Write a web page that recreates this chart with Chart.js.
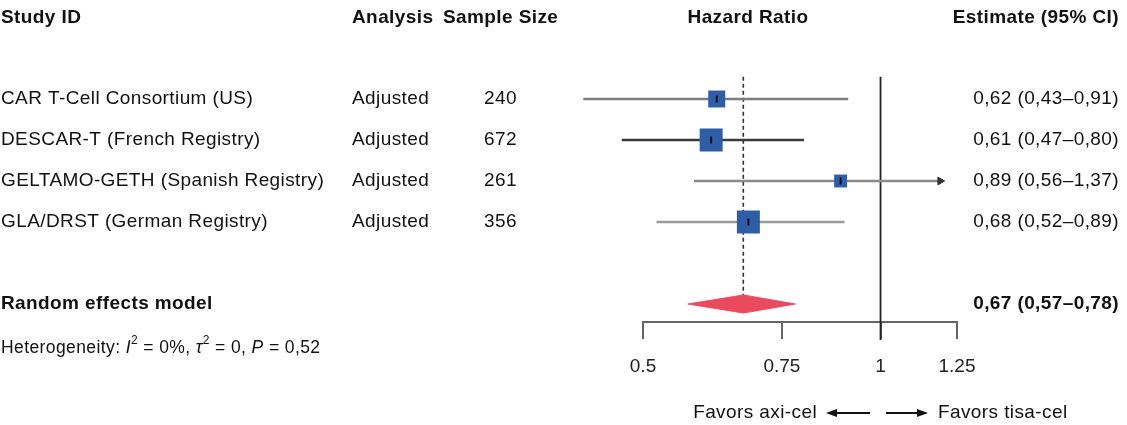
<!DOCTYPE html>
<html>
<head>
<meta charset="utf-8">
<script src="https://cdn.jsdelivr.net/npm/chart.js@4/dist/chart.umd.min.js"></script>
<style>
html,body{margin:0;padding:0;background:#fff;}
canvas{display:block;}
</style>
</head>
<body>
<canvas id="c" width="1127" height="425"></canvas>
<script>
// ---- data ----
const studyIds = ["CAR T-Cell Consortium (US)", "DESCAR-T (French Registry)", "GELTAMO-GETH (Spanish Registry)", "GLA/DRST (German Registry)"];
const analyses = ["Adjusted", "Adjusted", "Adjusted", "Adjusted"];
const sampleSizes = [240, 672, 261, 356];
const estimates = [0.62, 0.61, 0.89, 0.68];
const lowerCI = [0.42, 0.47, 0.58, 0.52];
const upperCI = [0.91, 0.80, 1.37, 0.90];
const weights = [19, 35, 11, 35];
const estimateLabels = ["0,62 (0,43–0,91)", "0,61 (0,47–0,80)", "0,89 (0,56–1,37)", "0,68 (0,52–0,89)"];
const pooled = 0.67, pooledLo = 0.57, pooledHi = 0.78;
const pooledLabel = "0,67 (0,57–0,78)";
const pooledName = "Random effects model";
const xTicks = [0.5, 0.75, 1, 1.25];
const xTickLabels = ["0.5", "0.75", "1", "1.25"];
const headers = ["Study ID", "Analysis", "Sample Size", "Hazard Ratio", "Estimate (95% CI)"];
const favorsLeft = "Favors axi-cel", favorsRight = "Favors tisa-cel";
const clipMax = 1.19;

// ---- styles ----
const FONT = '"Liberation Sans", Arial, Helvetica, sans-serif';
const lineColors = ["#7d7d7d", "#3a3a3a", "#8a8a8a", "#9a9a9a"];
const squareColor = "#2f5ea8";
const diamondColor = "#ea4a5e";
const maxSide = 23;
const summaryRow = 5;

const maxW = Math.max(...weights);
const rectRadius = weights.map(w => maxSide * Math.sqrt(w / maxW) / Math.SQRT2);

const datasets = [];
estimates.forEach((e, i) => {
  datasets.push({
    data: [{x: lowerCI[i], y: i}, {x: Math.min(upperCI[i], clipMax), y: i}],
    showLine: true, borderColor: lineColors[i], borderWidth: 2.6,
    pointRadius: 0, clip: false, order: 10
  });
});
// arrow for clipped CI
datasets.push({
  data: upperCI.map((u, i) => u > clipMax ? {x: clipMax, y: i} : null).filter(Boolean),
  pointStyle: 'triangle', rotation: 90, pointRadius: 4.5,
  backgroundColor: '#333', borderColor: '#333', borderWidth: 1, clip: false, order: 9
});
// reference lines
datasets.push({
  data: [{x: pooled, y: -0.54}, {x: pooled, y: 4.78}],
  showLine: true, borderColor: '#333', borderWidth: 1.6, borderDash: [4, 3],
  pointRadius: 0, clip: false, order: 11
});
datasets.push({
  data: [{x: 1, y: -0.54}, {x: 1, y: 5.88}],
  showLine: true, borderColor: '#222', borderWidth: 1.8,
  pointRadius: 0, clip: false, order: 11
});
// squares
datasets.push({
  data: estimates.map((e, i) => ({x: e, y: i})),
  pointStyle: 'rect', pointRadius: rectRadius,
  backgroundColor: squareColor, borderColor: squareColor, borderWidth: 0, clip: false, order: 2
});
// centre marks
datasets.push({
  data: estimates.map((e, i) => ({x: e, y: i})),
  pointStyle: 'line', rotation: 90, pointRadius: 3.5,
  borderColor: '#111', borderWidth: 2, clip: false, order: 1
});
// diamond
const dh = 0.22;
datasets.push({
  data: [{x: pooledLo, y: summaryRow}, {x: pooled, y: summaryRow - dh}, {x: pooledHi, y: summaryRow},
         {x: pooled, y: summaryRow + dh}, {x: pooledLo, y: summaryRow}],
  showLine: true, fill: 'shape', tension: 0,
  borderColor: diamondColor, backgroundColor: diamondColor, borderWidth: 1,
  pointRadius: 0, clip: false, order: 5
});

function drawArrow(ctx, x1, x2, y) {
  ctx.save();
  ctx.strokeStyle = '#111'; ctx.fillStyle = '#111'; ctx.lineWidth = 2;
  ctx.beginPath(); ctx.moveTo(x1, y); ctx.lineTo(x2, y); ctx.stroke();
  const dir = Math.sign(x2 - x1);
  ctx.beginPath();
  ctx.moveTo(x2 + dir * 2, y);
  ctx.lineTo(x2 - dir * 9, y - 4);
  ctx.lineTo(x2 - dir * 9, y + 4);
  ctx.closePath(); ctx.fill();
  ctx.restore();
}

function drawSegments(ctx, x, y, segs) {
  let cx = x;
  segs.forEach(s => {
    ctx.font = s.f;
    ctx.fillText(s.t, cx, y + (s.dy || 0));
    cx += ctx.measureText(s.t).width;
  });
}

const textPlugin = {
  id: 'forestText',
  afterDraw(chart) {
    const ctx = chart.ctx;
    const ys = chart.scales.y;
    const Y = v => ys.getPixelForValue(v);
    ctx.save();
    ctx.fillStyle = '#111';
    ctx.textBaseline = 'middle';
    if ('letterSpacing' in ctx) ctx.letterSpacing = '0.4px';
    const bold = 'bold 19px ' + FONT, reg = '19px ' + FONT;
    // headers
    const hy = Y(-1.97);
    ctx.font = bold;
    ctx.textAlign = 'left';
    ctx.fillText(headers[0], 1, hy);
    ctx.fillText(headers[1], 352, hy);
    ctx.fillText(headers[2], 443, hy);
    ctx.textAlign = 'center';
    ctx.fillText(headers[3], 748, hy);
    ctx.textAlign = 'right';
    ctx.fillText(headers[4], 1119, hy);
    // rows
    ctx.font = reg;
    studyIds.forEach((s, i) => {
      const y = Y(i);
      ctx.textAlign = 'left';
      ctx.fillText(s, 1, y);
      ctx.fillText(analyses[i], 352, y);
      ctx.fillText(String(sampleSizes[i]), 484, y);
      ctx.textAlign = 'right';
      ctx.fillText(estimateLabels[i], 1119, y);
    });
    // summary
    ctx.font = bold;
    ctx.textAlign = 'left';
    ctx.fillText(pooledName, 1, Y(summaryRow));
    ctx.textAlign = 'right';
    ctx.fillText(pooledLabel, 1119, Y(summaryRow));
    // heterogeneity
    ctx.textAlign = 'left';
    const r = '17.5px ' + FONT, it = 'italic 17.5px ' + FONT, sup = '12px ' + FONT;
    drawSegments(ctx, 1, 348, [
      {t: 'Heterogeneity: ', f: r}, {t: 'I', f: it}, {t: '2', f: sup, dy: -7},
      {t: ' = 0%, ', f: r}, {t: 'τ', f: it}, {t: '2', f: sup, dy: -7},
      {t: ' = 0, ', f: r}, {t: 'P', f: it}, {t: ' = 0,52', f: r}
    ]);
    // favors
    ctx.font = reg;
    ctx.textAlign = 'right';
    ctx.fillText(favorsLeft, 817, 413);
    ctx.textAlign = 'left';
    ctx.fillText(favorsRight, 938, 413);
    drawArrow(ctx, 870, 828, 413);
    drawArrow(ctx, 886, 926, 413);
    ctx.restore();
  }
};

new Chart(document.getElementById('c'), {
  type: 'scatter',
  data: {datasets},
  options: {
    responsive: false,
    animation: false,
    devicePixelRatio: 1,
    layout: {padding: {left: 643, right: 170, top: 60, bottom: 0}},
    plugins: {legend: {display: false}, tooltip: {enabled: false}},
    scales: {
      x: {
        type: 'logarithmic', min: 0.5, max: 1.25, position: 'bottom',
        afterBuildTicks: s => { s.ticks = xTicks.map(v => ({value: v})); },
        afterFit: s => { s.height = 103; },
        ticks: {
          autoSkip: false, maxRotation: 0, padding: 16, color: '#222',
          font: {size: 19, family: FONT},
          callback: (v) => { const k = xTicks.indexOf(v); return k >= 0 ? xTickLabels[k] : ''; }
        },
        grid: {drawOnChartArea: false, drawTicks: true, tickLength: 17, color: '#666', lineWidth: 2},
        border: {display: true, color: '#666', width: 2}
      },
      y: {type: 'linear', display: false, min: -0.951, max: 5.439, reverse: true}
    }
  },
  plugins: [textPlugin]
});
</script>
</body>
</html>
